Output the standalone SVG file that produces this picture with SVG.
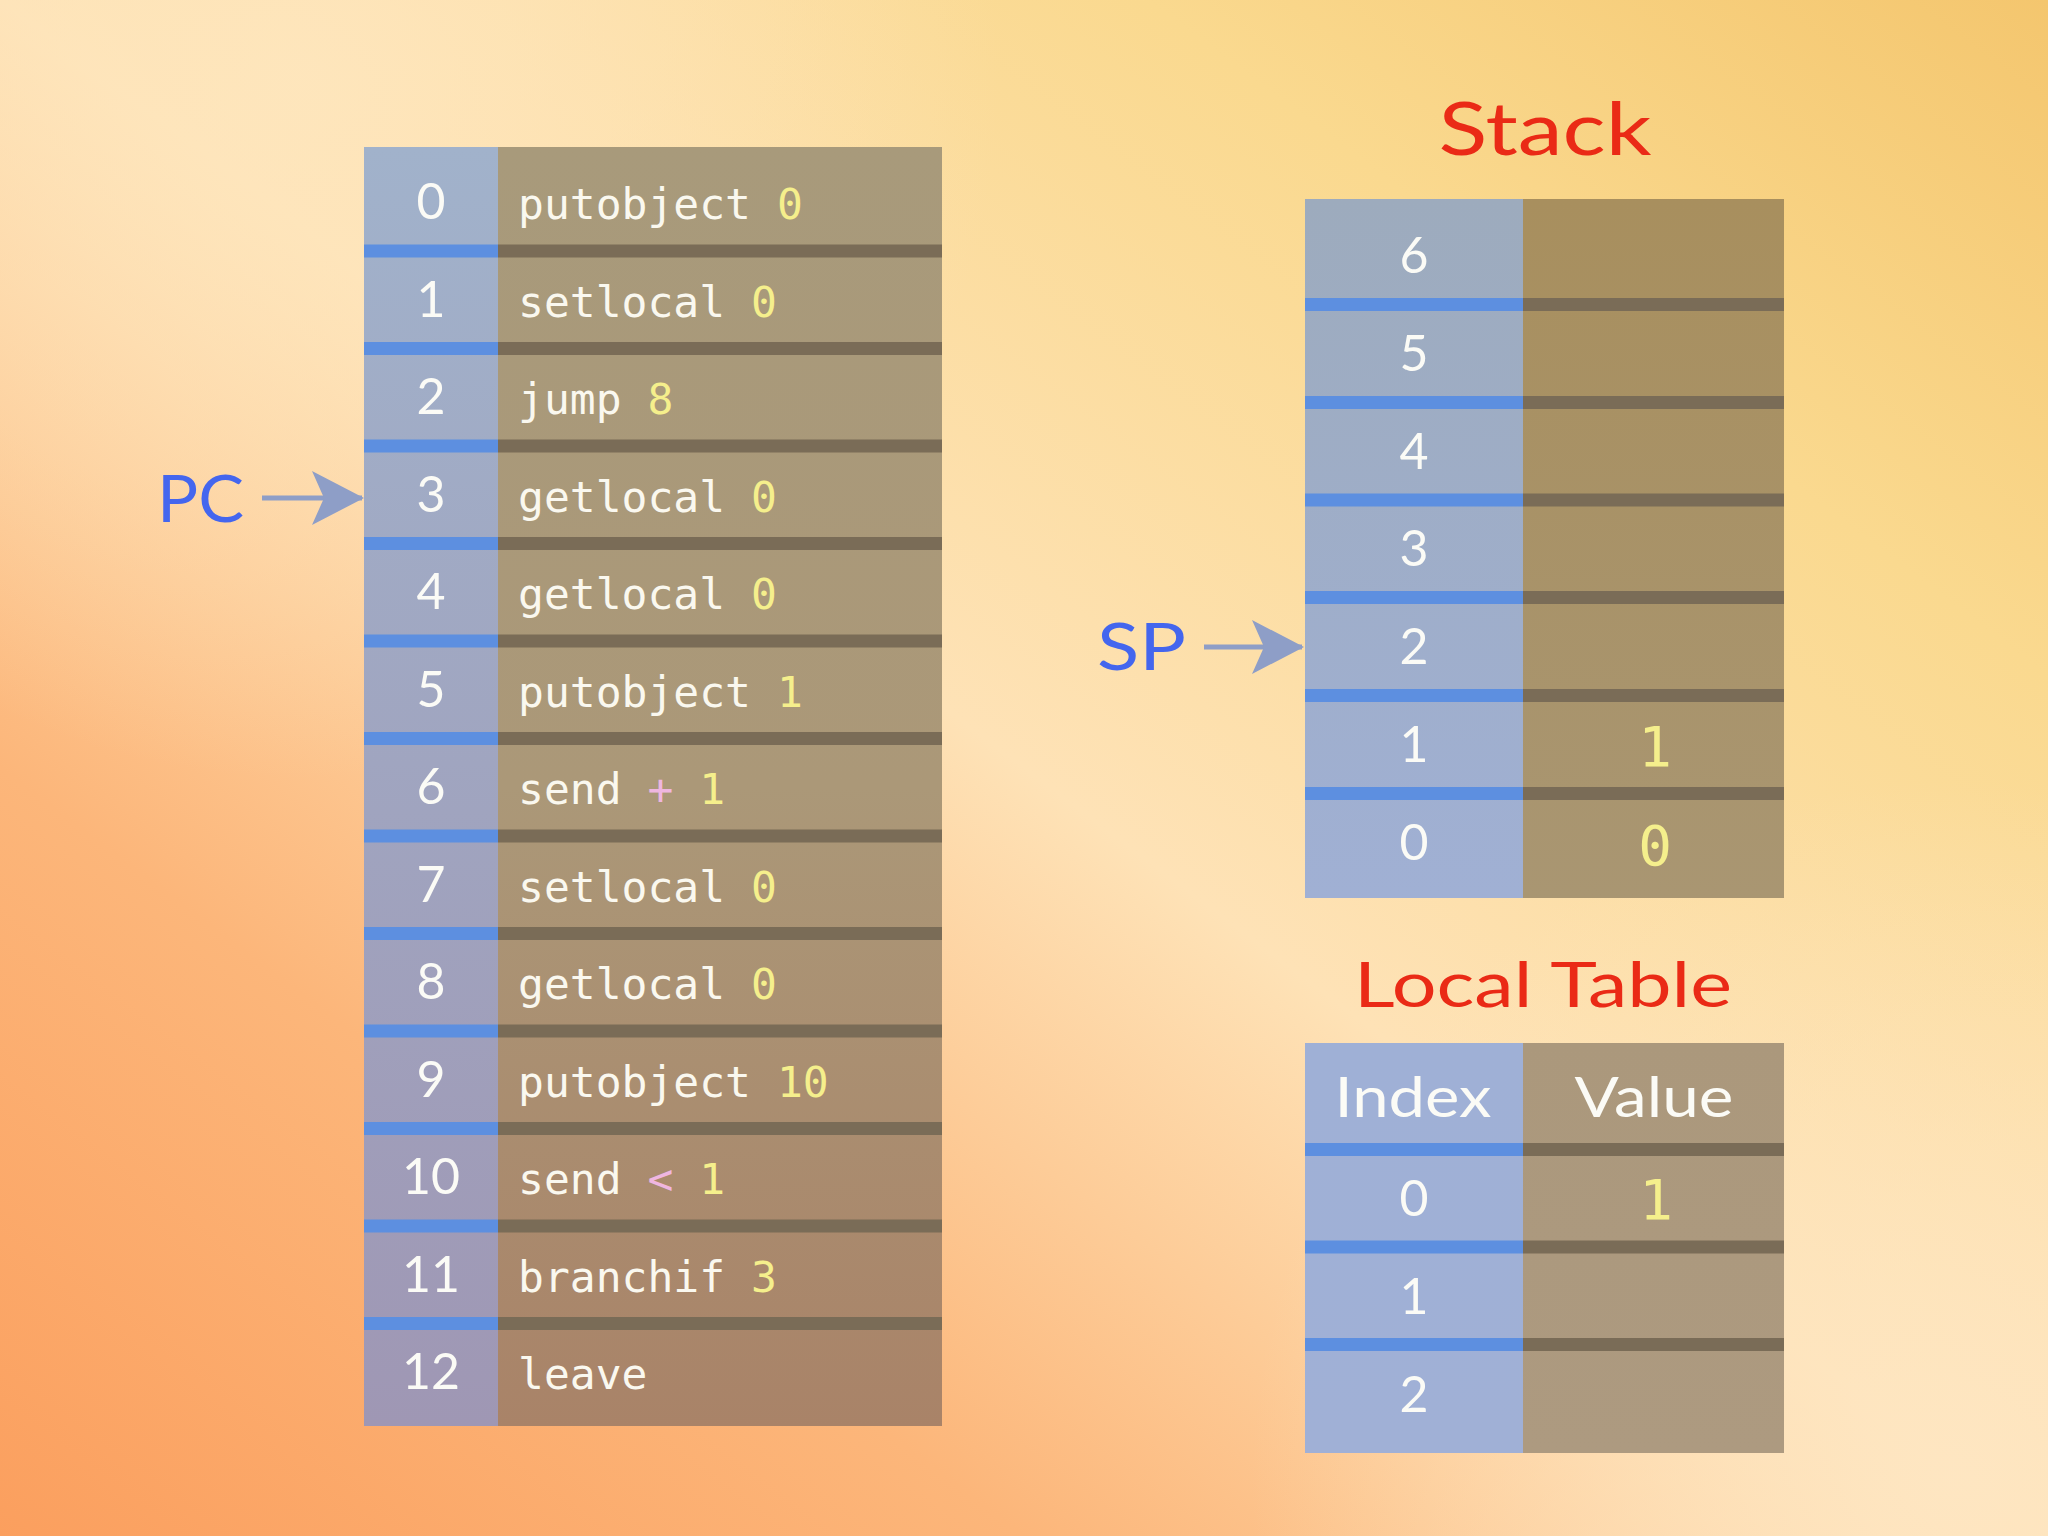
<svg xmlns="http://www.w3.org/2000/svg" width="2048" height="1536" viewBox="0 0 2048 1536">
  <defs>
    <linearGradient id="bg" x1="0" y1="1" x2="1" y2="0">
      <stop offset="0" stop-color="#fb9f5e"/>
      <stop offset="0.25" stop-color="#fcb67a"/>
      <stop offset="0.5" stop-color="#fee2b6"/>
      <stop offset="0.78" stop-color="#fad98f"/>
      <stop offset="1" stop-color="#f4c66e"/>
    </linearGradient>
    <radialGradient id="glowTL" cx="300" cy="80" r="700" gradientUnits="userSpaceOnUse">
      <stop offset="0" stop-color="#fee6bd" stop-opacity="0.9"/>
      <stop offset="1" stop-color="#fee6bd" stop-opacity="0"/>
    </radialGradient>
    <radialGradient id="glowBR" cx="1950" cy="1480" r="700" gradientUnits="userSpaceOnUse">
      <stop offset="0" stop-color="#fee6c2" stop-opacity="0.95"/>
      <stop offset="1" stop-color="#fee6c2" stop-opacity="0"/>
    </radialGradient>
    <linearGradient id="idxL" x1="0" y1="0" x2="0" y2="1">
      <stop offset="0" stop-color="#a1b2cb"/>
      <stop offset="1" stop-color="#9f97b4"/>
    </linearGradient>
    <linearGradient id="codeL" x1="0" y1="0" x2="0" y2="1">
      <stop offset="0" stop-color="#a89a7b"/>
      <stop offset="0.5" stop-color="#ab9878"/>
      <stop offset="1" stop-color="#a98368"/>
    </linearGradient>
    <linearGradient id="idxS" x1="0" y1="0" x2="0" y2="1">
      <stop offset="0" stop-color="#9dabbd"/>
      <stop offset="1" stop-color="#a0b0d4"/>
    </linearGradient>
    <linearGradient id="valS" x1="0" y1="0" x2="0" y2="1">
      <stop offset="0" stop-color="#a88f5e"/>
      <stop offset="1" stop-color="#a99672"/>
    </linearGradient>
    <linearGradient id="idxT" x1="0" y1="0" x2="0" y2="1">
      <stop offset="0" stop-color="#9fb0d6"/>
      <stop offset="1" stop-color="#a0b0d6"/>
    </linearGradient>
    <linearGradient id="valT" x1="0" y1="0" x2="0" y2="1">
      <stop offset="0" stop-color="#ab987c"/>
      <stop offset="1" stop-color="#ad9a80"/>
    </linearGradient>
    <marker id="dart" viewBox="0 0 52 54" refX="50" refY="27" markerWidth="52" markerHeight="54" markerUnits="userSpaceOnUse" orient="auto">
      <path d="M0,0 L52,27 L0,54 L12,27 Z" fill="#8e9ec7"/>
    </marker>
    <style>
      .band-b { fill: #5d8fe0; }
      .band-d { fill: #7a6c57; }
      .idx { font-family: Lato, "Open Sans", "DejaVu Sans", sans-serif; font-weight: 400; font-size: 50px; fill: #fbfbf6; text-anchor: middle; }
      .code { font-family: "DejaVu Sans Mono", "Liberation Mono", monospace; font-size: 43px; fill: #faf8ef; }
      .arg { fill: #f5ef8c; }
      .op { fill: #efb6e0; }
      .val { font-family: "DejaVu Sans Mono", "Liberation Mono", monospace; font-size: 56px; fill: #f5ef8c; text-anchor: middle; }
      .title { font-family: Lato, "Open Sans", "DejaVu Sans", sans-serif; font-weight: 400; fill: #ea2a16; text-anchor: middle; }
      .ptr { font-family: Lato, "Open Sans", "DejaVu Sans", sans-serif; font-weight: 400; font-size: 66px; fill: #4466ee; }
      .hdr { font-family: Lato, "Open Sans", "DejaVu Sans", sans-serif; font-weight: 400; font-size: 56px; fill: #fbfbf6; text-anchor: middle; }
      .arrow { stroke: #8e9ec7; stroke-width: 5; fill: none; }
    </style>
  </defs>

  <rect x="0" y="0" width="2048" height="1536" fill="url(#bg)"/>
  <rect x="0" y="0" width="2048" height="1536" fill="url(#glowTL)"/>
  <rect x="0" y="0" width="2048" height="1536" fill="url(#glowBR)"/>

  <g id="instructions">
    <rect x="364" y="147" width="134" height="1279" fill="url(#idxL)"/>
    <rect x="498" y="147" width="444" height="1279" fill="url(#codeL)"/>
    <g id="instr-bands">
      <rect class="band-b" x="364" y="244.5" width="134" height="13"/><rect class="band-d" x="498" y="244.5" width="444" height="13"/>
      <rect class="band-b" x="364" y="342" width="134" height="13"/><rect class="band-d" x="498" y="342" width="444" height="13"/>
      <rect class="band-b" x="364" y="439.5" width="134" height="13"/><rect class="band-d" x="498" y="439.5" width="444" height="13"/>
      <rect class="band-b" x="364" y="537" width="134" height="13"/><rect class="band-d" x="498" y="537" width="444" height="13"/>
      <rect class="band-b" x="364" y="634.5" width="134" height="13"/><rect class="band-d" x="498" y="634.5" width="444" height="13"/>
      <rect class="band-b" x="364" y="732" width="134" height="13"/><rect class="band-d" x="498" y="732" width="444" height="13"/>
      <rect class="band-b" x="364" y="829.5" width="134" height="13"/><rect class="band-d" x="498" y="829.5" width="444" height="13"/>
      <rect class="band-b" x="364" y="927" width="134" height="13"/><rect class="band-d" x="498" y="927" width="444" height="13"/>
      <rect class="band-b" x="364" y="1024.5" width="134" height="13"/><rect class="band-d" x="498" y="1024.5" width="444" height="13"/>
      <rect class="band-b" x="364" y="1122" width="134" height="13"/><rect class="band-d" x="498" y="1122" width="444" height="13"/>
      <rect class="band-b" x="364" y="1219.5" width="134" height="13"/><rect class="band-d" x="498" y="1219.5" width="444" height="13"/>
      <rect class="band-b" x="364" y="1317" width="134" height="13"/><rect class="band-d" x="498" y="1317" width="444" height="13"/>
    </g>
    <g id="instr-index">
      <text class="idx" x="431" y="219">0</text>
      <text class="idx" x="431" y="316.5">1</text>
      <text class="idx" x="431" y="414">2</text>
      <text class="idx" x="431" y="511.5">3</text>
      <text class="idx" x="431" y="609">4</text>
      <text class="idx" x="431" y="706.5">5</text>
      <text class="idx" x="431" y="804">6</text>
      <text class="idx" x="431" y="901.5">7</text>
      <text class="idx" x="431" y="999">8</text>
      <text class="idx" x="431" y="1096.5">9</text>
      <text class="idx" x="431" y="1194">10</text>
      <text class="idx" x="431" y="1291.5">11</text>
      <text class="idx" x="431" y="1389">12</text>
    </g>
    <g id="instr-code">
      <text class="code" x="518" y="219" xml:space="preserve">putobject <tspan class="arg">0</tspan></text>
      <text class="code" x="518" y="316.5" xml:space="preserve">setlocal <tspan class="arg">0</tspan></text>
      <text class="code" x="518" y="414" xml:space="preserve">jump <tspan class="arg">8</tspan></text>
      <text class="code" x="518" y="511.5" xml:space="preserve">getlocal <tspan class="arg">0</tspan></text>
      <text class="code" x="518" y="609" xml:space="preserve">getlocal <tspan class="arg">0</tspan></text>
      <text class="code" x="518" y="706.5" xml:space="preserve">putobject <tspan class="arg">1</tspan></text>
      <text class="code" x="518" y="804" xml:space="preserve">send <tspan class="op">+</tspan> <tspan class="arg">1</tspan></text>
      <text class="code" x="518" y="901.5" xml:space="preserve">setlocal <tspan class="arg">0</tspan></text>
      <text class="code" x="518" y="999" xml:space="preserve">getlocal <tspan class="arg">0</tspan></text>
      <text class="code" x="518" y="1096.5" xml:space="preserve">putobject <tspan class="arg">10</tspan></text>
      <text class="code" x="518" y="1194" xml:space="preserve">send <tspan class="op">&lt;</tspan> <tspan class="arg">1</tspan></text>
      <text class="code" x="518" y="1291.5" xml:space="preserve">branchif <tspan class="arg">3</tspan></text>
      <text class="code" x="518" y="1389" xml:space="preserve">leave</text>
    </g>
  </g>

  <g id="stack">
    <text class="title" x="1545" y="155" font-size="74" textLength="213" lengthAdjust="spacingAndGlyphs">Stack</text>
    <rect x="1305" y="199" width="218" height="699" fill="url(#idxS)"/>
    <rect x="1523" y="199" width="261" height="699" fill="url(#valS)"/>
    <rect class="band-b" x="1305" y="298" width="218" height="13"/><rect class="band-d" x="1523" y="298" width="261" height="13"/>
    <rect class="band-b" x="1305" y="396" width="218" height="13"/><rect class="band-d" x="1523" y="396" width="261" height="13"/>
    <rect class="band-b" x="1305" y="493.5" width="218" height="13"/><rect class="band-d" x="1523" y="493.5" width="261" height="13"/>
    <rect class="band-b" x="1305" y="591" width="218" height="13"/><rect class="band-d" x="1523" y="591" width="261" height="13"/>
    <rect class="band-b" x="1305" y="689" width="218" height="13"/><rect class="band-d" x="1523" y="689" width="261" height="13"/>
    <rect class="band-b" x="1305" y="787" width="218" height="13"/><rect class="band-d" x="1523" y="787" width="261" height="13"/>
    <text class="idx" x="1414" y="273">6</text>
    <text class="idx" x="1414" y="371">5</text>
    <text class="idx" x="1414" y="468.5">4</text>
    <text class="idx" x="1414" y="566">3</text>
    <text class="idx" x="1414" y="664">2</text>
    <text class="idx" x="1414" y="762">1</text>
    <text class="idx" x="1414" y="860">0</text>
    <text class="val" x="1655" y="766">1</text>
    <text class="val" x="1655" y="865">0</text>
  </g>

  <g id="local-table">
    <text class="title" x="1543" y="1007" font-size="62" textLength="378" lengthAdjust="spacingAndGlyphs">Local Table</text>
    <rect x="1305" y="1043" width="218" height="410" fill="url(#idxT)"/>
    <rect x="1523" y="1043" width="261" height="410" fill="url(#valT)"/>
    <rect class="band-b" x="1305" y="1143" width="218" height="13"/><rect class="band-d" x="1523" y="1143" width="261" height="13"/>
    <rect class="band-b" x="1305" y="1240.5" width="218" height="13"/><rect class="band-d" x="1523" y="1240.5" width="261" height="13"/>
    <rect class="band-b" x="1305" y="1338" width="218" height="13"/><rect class="band-d" x="1523" y="1338" width="261" height="13"/>
    <text class="hdr" x="1413" y="1117" textLength="157" lengthAdjust="spacingAndGlyphs">Index</text>
    <text class="hdr" x="1654" y="1117" textLength="159" lengthAdjust="spacingAndGlyphs">Value</text>
    <text class="idx" x="1414" y="1216">0</text>
    <text class="idx" x="1414" y="1314">1</text>
    <text class="idx" x="1414" y="1412">2</text>
    <text class="val" x="1656" y="1219" font-size="54">1</text>
  </g>

  <g id="pc">
    <text class="ptr" x="157" y="522" textLength="87" lengthAdjust="spacingAndGlyphs">PC</text>
  </g>
  <g id="sp">
    <text class="ptr" x="1097" y="670" textLength="89" lengthAdjust="spacingAndGlyphs">SP</text>
  </g>

  <g id="connectors">
    <line class="arrow" x1="262" y1="498" x2="362" y2="498" marker-end="url(#dart)"/>
    <line class="arrow" x1="1204" y1="647" x2="1302" y2="647" marker-end="url(#dart)"/>
  </g>
</svg>
